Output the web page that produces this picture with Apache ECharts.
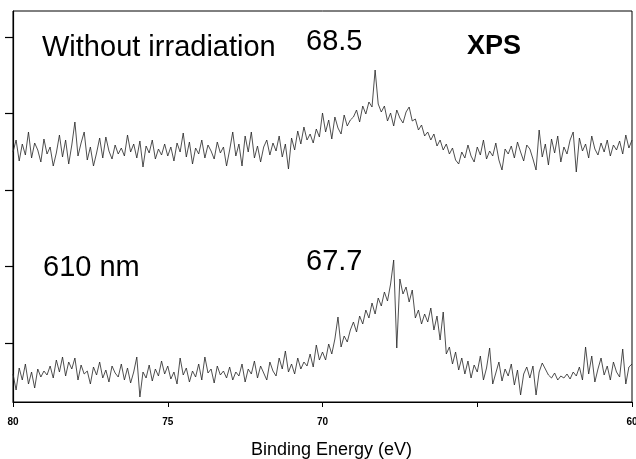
<!DOCTYPE html>
<html>
<head>
<meta charset="utf-8">
<script src="https://cdn.jsdelivr.net/npm/echarts@6/dist/echarts.min.js"></script>
<style>
html,body{margin:0;padding:0;background:#fff;}
#chart{width:636px;height:459px;}
</style>
</head>
<body>
<div id="chart"></div>
<script>
// binding energy grid: 80.0 eV down to 60.0 eV, 0.1 eV step
let eStart=80, eStep=0.1;

// upper trace: without irradiation
let withoutIrr=[
250,262,241,258,247,270,244,259,252,240,
263,248,255,236,249,267,245,262,238,257,
280,246,259,270,242,255,236,249,264,244,
265,251,243,257,248,254,246,267,250,258,
244,261,235,256,249,262,243,253,247,258,
246,255,241,259,250,269,245,260,238,254,
248,262,244,257,251,243,260,249,255,236,
252,270,246,258,236,266,250,270,244,256,
240,255,262,247,259,251,266,245,258,233,
264,252,271,258,275,262,268,259,273,265,
289,270,282,263,285,274,268,287,276,282,
285,292,280,296,288,300,295,332,298,290,
296,281,289,276,292,284,279,290,295,281,
283,272,277,266,270,262,268,256,262,252,
258,248,254,242,238,250,244,257,246,240,
255,247,262,243,251,246,259,242,232,253,
248,256,244,260,250,241,257,253,243,232,
272,245,258,237,263,249,266,240,255,248,
262,270,230,264,251,258,244,266,253,247,
259,250,262,246,257,252,261,248,267,254,
262
];

// lower trace: 610 nm
let nm610=[
28,12,34,22,38,18,30,14,33,25,
31,27,36,24,42,30,45,26,40,33,
44,22,37,28,31,18,35,27,40,24,
32,20,36,29,25,38,22,34,19,30,
45,5,30,24,37,21,33,26,41,28,
36,23,30,18,44,27,34,20,31,25,
38,22,45,29,33,19,36,27,31,24,
35,22,30,26,38,20,33,28,41,24,
36,29,22,40,31,26,44,33,51,30,
38,28,44,33,40,36,48,35,57,42,
50,42,58,48,63,85,55,66,60,72,
80,70,86,78,92,84,99,88,104,96,
110,101,118,142,54,123,108,115,100,112,
84,92,78,88,80,94,72,86,62,90,
48,55,38,50,32,44,28,41,24,37,
30,46,22,34,54,18,29,40,21,33,
26,38,17,32,7,28,35,24,36,7,
30,39,33,27,24,29,22,26,24,28,
23,30,26,35,22,55,28,46,20,33,
44,27,36,22,40,30,25,53,18,35,
38
];

let yTicks=[58.7,135.3,211.9,288.5,365.1];
let xLabels=[80,75,70,60];

function pairs(vals){
    let out=[];
    for(let i=0;i<vals.length;i++){
        out.push([+(eStart-eStep*i).toFixed(2),vals[i]]);
    }
    return out;
}

let myChart=echarts.init(document.getElementById('chart'));
let txt={fontFamily:'Liberation Sans, Arial, sans-serif',fontSize:29,fill:'#000'};
myChart.setOption({
    animation:false,
    backgroundColor:'#fff',
    grid:{left:13,right:4,top:11,bottom:57,show:true,borderColor:'#000',borderWidth:1,
        outerBoundsMode:'none',containLabel:false},
    xAxis:{
        type:'value',min:60,max:80,interval:5,inverse:true,
        name:'Binding Energy (eV)',nameLocation:'middle',nameGap:39,
        nameTextStyle:{fontFamily:'Liberation Sans, Arial, sans-serif',fontSize:18,color:'#000',padding:[0,0,0,18]},
        axisLine:{lineStyle:{color:'#000',width:1.2}},
        axisTick:{length:5,lineStyle:{color:'#000'}},
        axisLabel:{margin:15,fontSize:10,fontWeight:'bold',color:'#000',
            fontFamily:'Liberation Sans, Arial, sans-serif',
            formatter:function(v){return xLabels.indexOf(v)>=0?String(v):'';}},
        splitLine:{show:false}
    },
    yAxis:{
        type:'value',min:0,max:391,
        axisLine:{show:true,lineStyle:{color:'#000',width:1.2}},
        axisTick:{show:true,length:8,customValues:yTicks,lineStyle:{color:'#000',width:1.2}},
        axisLabel:{show:false},
        splitLine:{show:false}
    },
    series:[
        {type:'line',data:pairs(withoutIrr),showSymbol:false,symbol:'none',
            lineStyle:{color:'#222',width:0.8}},
        {type:'line',data:pairs(nm610),showSymbol:false,symbol:'none',
            lineStyle:{color:'#222',width:0.8}}
    ],
    graphic:[
        {type:'text',left:42,top:48-15,style:Object.assign({text:'Without irradiation'},txt)},
        {type:'text',left:306,top:42-15,style:Object.assign({text:'68.5'},txt)},
        {type:'text',left:467,top:47-14,style:Object.assign({},txt,{text:'XPS',fontSize:27,fontWeight:'bold'})},
        {type:'text',left:43,top:268-15,style:Object.assign({text:'610 nm'},txt)},
        {type:'text',left:306,top:262-15,style:Object.assign({text:'67.7'},txt)}
    ]
});
</script>
</body>
</html>
